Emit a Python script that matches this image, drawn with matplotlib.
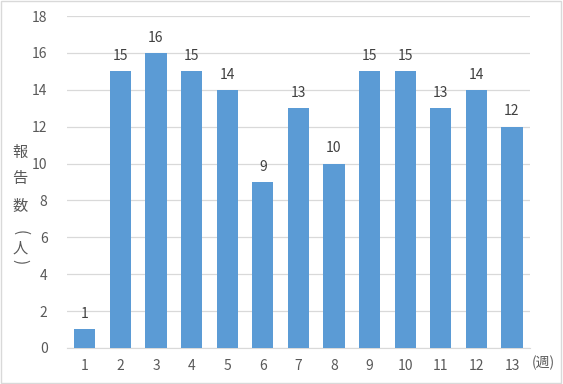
import matplotlib.pyplot as plt
from matplotlib.patches import Rectangle

plt.rcParams['font.family'] = ['Noto Sans CJK JP', 'DejaVu Sans']

weeks = [str(i) for i in range(1, 14)]
counts = [1, 15, 16, 15, 14, 9, 13, 10, 15, 15, 13, 14, 12]
ylabel_chars = ['報', '告', '数', '(', '人', ')']

fig = plt.figure(figsize=(5.63, 3.84), dpi=100)
ax = fig.add_axes([0.119, 0.094, 0.822, 0.864])

x = range(len(weeks))
ax.bar(x, counts, width=0.6, color='#5B9BD5', zorder=3)
for xi, v in zip(x, counts):
    ax.text(xi, v + 0.45, str(v), ha='center', va='bottom', fontsize=10, color='#404040')

ax.set_xlim(-0.5, len(weeks) - 0.5)
ax.set_ylim(0, 18)
ax.set_yticks(range(0, 19, 2))
ax.set_xticks(list(x))
ax.set_xticklabels(weeks)
ax.grid(axis='y', color='#D9D9D9', linewidth=0.9, zorder=0)
for s in ['top', 'right', 'left']:
    ax.spines[s].set_visible(False)
ax.spines['bottom'].set_color('#D9D9D9')
ax.tick_params(length=0, labelsize=10, colors='#595959', pad=8)
ax.tick_params(axis='y', pad=14)

# 縦書きの軸ラベル（括弧は回転させる）
ypos = [152, 179, 206, 233, 248, 262]
for ch, yp in zip(ylabel_chars, ypos):
    rot = -90 if ch in '()' else 0
    fig.text(20 / 563, 1 - yp / 384, ch, ha='center', va='center', rotation=rot,
             rotation_mode='anchor', fontsize=11, color='#595959')
fig.text(543 / 563, 1 - 363 / 384, '(週)', ha='center', va='center',
         fontsize=10, color='#595959')

fig.patches.append(Rectangle((0.002, 0.003), 0.995, 0.994, transform=fig.transFigure,
                             fill=False, edgecolor='#D9D9D9', linewidth=1))

fig.savefig('out.png', dpi=100)
